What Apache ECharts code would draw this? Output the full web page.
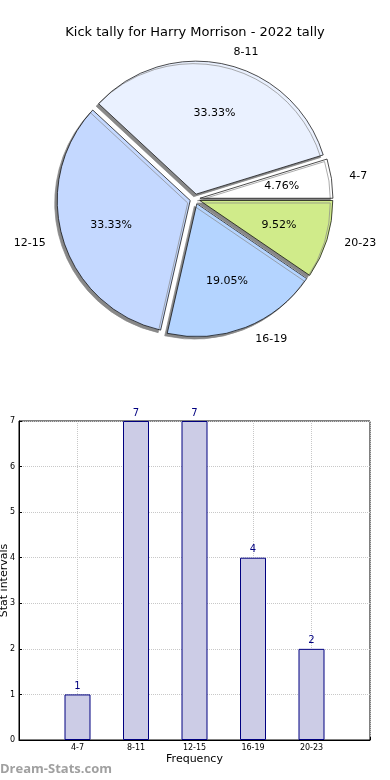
<!DOCTYPE html>
<html>
<head>
<meta charset="utf-8">
<script src="https://cdn.jsdelivr.net/npm/echarts@6/dist/echarts.min.js"></script>
<style>html,body{margin:0;padding:0;background:#fff}#c{width:390px;height:780px}</style>
</head>
<body>
<div id="c"></div>
<script>
var title = 'Kick tally for Harry Morrison - 2022 tally';
var categories = ['4-7', '8-11', '12-15', '16-19', '20-23'];
var values = [1, 7, 7, 4, 2];
var sliceColors = ['#ffffff', '#eaf1ff', '#c4d8ff', '#b4d4ff', '#d0eb8a'];
var yTicks = [0, 1, 2, 3, 4, 5, 6, 7];
var xName = 'Frequency';
var yName = 'Stat intervals';
var watermark = 'Dream-Stats.com';

var total = values.reduce(function (a, b) { return a + b; }, 0);
var R = 133;
var FONT = 'DejaVu Sans';

function pieData(withColor) {
  return categories.map(function (c, i) {
    return {
      name: c, value: values[i], selected: true,
      itemStyle: withColor ? { color: sliceColors[i] } : { color: 'rgba(0,0,0,0)', borderWidth: 0, shadowColor: 'rgba(0,0,0,0)' }
    };
  });
}

var axisCats = [''].concat(categories).concat(['']);
var barData = [null].concat(values).concat([null]);

var chart = echarts.init(document.getElementById('c'), null, { renderer: 'canvas' });
chart.setOption({
  animation: false,
  backgroundColor: '#fff',
  textStyle: { fontFamily: FONT },
  title: {
    text: title, left: 'center', top: 21,
    textStyle: { fontFamily: FONT, fontSize: 13, fontWeight: 'normal', color: '#000' }
  },
  graphic: [{
    type: 'text', left: 0, top: 763,
    style: { text: watermark, fontFamily: 'Open Sans', fontSize: 13, fontWeight: 'bold', fill: '#a0a0a0' }
  }],
  grid: { left: 19, right: 20, top: 421, bottom: 40, show: true, borderColor: '#000', borderWidth: 1, outerBoundsMode: 'none', containLabel: false },
  xAxis: {
    type: 'category', data: axisCats, boundaryGap: false,
    name: xName, nameLocation: 'middle', nameGap: 14, nameMoveOverlap: false,
    nameTextStyle: { fontFamily: FONT, fontSize: 11, color: '#000', verticalAlign: 'top' },
    axisLine: { lineStyle: { color: '#000', width: 1 } },
    axisTick: { show: true, inside: true, length: 3, lineStyle: { color: '#000' } },
    axisLabel: { fontFamily: FONT, fontSize: 8, color: '#000', margin: 4 },
    splitLine: { show: true, lineStyle: { color: '#c8c8c8', type: 'dotted', width: 1 } }
  },
  yAxis: {
    type: 'value', min: yTicks[0], max: yTicks[yTicks.length - 1], interval: 1,
    name: yName, nameLocation: 'middle', nameGap: 9, nameRotate: 90, nameMoveOverlap: false,
    nameTextStyle: { fontFamily: FONT, fontSize: 11, color: '#000' },
    axisLine: { show: true, lineStyle: { color: '#000', width: 1 } },
    axisTick: { show: true, inside: true, length: 3, lineStyle: { color: '#000' } },
    axisLabel: { fontFamily: FONT, fontSize: 8, color: '#000', margin: 4 },
    splitLine: { show: true, lineStyle: { color: '#c8c8c8', type: 'dotted', width: 1 } }
  },
  series: [
    {
      type: 'pie', center: [195, 199], radius: R, startAngle: 0, clockwise: false,
      selectedMode: 'multiple', selectedOffset: 5, avoidLabelOverlap: false, silent: true,
      itemStyle: { borderColor: '#000', borderWidth: 0.7, shadowColor: '#888', shadowBlur: 0.5, shadowOffsetX: -2.5, shadowOffsetY: 2.5 },
      label: { show: true, position: 'outside', fontFamily: FONT, fontSize: 11, color: '#000', formatter: '{b}' },
      labelLine: { show: false, length: 13, length2: 0 },
      emphasis: { disabled: true },
      data: pieData(true)
    },
    {
      type: 'pie', center: [195, 199], radius: [0, R * 1.2], startAngle: 0, clockwise: false,
      selectedMode: 'multiple', selectedOffset: 5, avoidLabelOverlap: false, silent: true,
      label: {
        show: true, position: 'inside', fontFamily: FONT, fontSize: 11, color: '#000',
        formatter: function (p) { return (p.value / total * 100).toFixed(2) + '%'; }
      },
      labelLine: { show: false },
      emphasis: { disabled: true },
      data: pieData(false)
    },
    {
      type: 'bar', data: barData, barWidth: 26,
      itemStyle: { color: '#ccccE6', borderColor: '#000080', borderWidth: 1 },
      label: { show: true, position: 'top', distance: 3, fontFamily: FONT, fontSize: 10, color: '#000080' }
    }
  ]
});
</script>
</body>
</html>
